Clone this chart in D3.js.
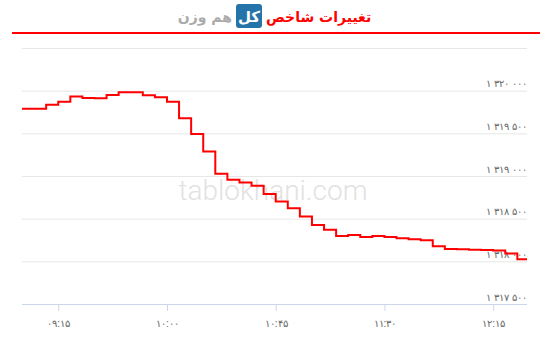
<!DOCTYPE html>
<html lang="fa">
<head>
<meta charset="utf-8">
<title>تغییرات شاخص کل هم وزن</title>
<script src="https://cdn.jsdelivr.net/npm/d3@7"></script>
<style>
  body { margin: 0; background: #fff; }
  svg { display: block; font-family: "DejaVu Sans", sans-serif; }
</style>
</head>
<body>
<script>
// data (5 minute steps)
var times = ["09:00","09:05","09:10","09:15","09:20","09:25","09:30","09:35","09:40","09:45",
             "09:50","09:55","10:00","10:05","10:10","10:15","10:20","10:25","10:30","10:35",
             "10:40","10:45","10:50","10:55","11:00","11:05","11:10","11:15","11:20","11:25",
             "11:30","11:35","11:40","11:45","11:50","11:55","12:00","12:05","12:10","12:15",
             "12:20","12:25","12:29"];
var values = [1319789,1319789,1319836,1319871,1319933,1319914,1319912,1319949,1319980,1319980,
              1319945,1319924,1319871,1319677,1319492,1319288,1319026,1318955,1318924,1318885,
              1318788,1318701,1318623,1318525,1318427,1318369,1318298,1318310,1318286,1318298,
              1318286,1318271,1318259,1318248,1318177,1318146,1318142,1318137,1318134,1318126,
              1318093,1318025,1318025];
var yTicks = [1317500, 1318000, 1318500, 1319000, 1319500, 1320000, 1320500];
var xTicks = ["09:15", "10:00", "10:45", "11:30", "12:15"];

var w = 550, h = 346;
var plotLeft = 22, plotRight = 527, plotTop = 48, plotBottom = 304;

var parse = d3.timeParse("%H:%M");
var fa = function(s) {
  return String(s).replace(/[0-9]/g, function(c) { return "۰۱۲۳۴۵۶۷۸۹"[+c]; });
};

var data = times.map(function(t, i) { return { t: parse(t), v: values[i] }; });

var x = d3.scaleTime()
    .domain(d3.extent(data, function(d) { return d.t; }))
    .range([plotLeft, plotRight]);
var y = d3.scaleLinear()
    .domain([1317500, 1320500])
    .range([plotBottom, plotTop]);

var svg = d3.select("body").append("svg")
    .attr("width", w)
    .attr("height", h);

// title
svg.append("text")
    .attr("x", 266).attr("y", 22)
    .attr("text-anchor", "start")
    .attr("font-size", 14).attr("font-weight", "bold")
    .attr("fill", "#ff0000")
    .text("تغییرات شاخص");
svg.append("rect")
    .attr("x", 236).attr("y", 4)
    .attr("width", 26).attr("height", 24)
    .attr("rx", 3)
    .attr("fill", "#2574a9");
svg.append("text")
    .attr("x", 249).attr("y", 22)
    .attr("text-anchor", "middle")
    .attr("font-size", 15).attr("font-weight", "bold")
    .attr("fill", "#fff")
    .text("کل");
svg.append("text")
    .attr("x", 232).attr("y", 22)
    .attr("text-anchor", "end")
    .attr("font-size", 14).attr("font-weight", "bold")
    .attr("fill", "#aaaaaa")
    .text("هم وزن");
svg.append("line")
    .attr("x1", 12).attr("x2", 540)
    .attr("y1", 33).attr("y2", 33)
    .attr("stroke", "#ff0000").attr("stroke-width", 2);

// watermark
svg.append("text")
    .attr("x", 273).attr("y", 200)
    .attr("text-anchor", "middle")
    .attr("font-family", "Roboto, sans-serif")
    .attr("font-weight", 300)
    .attr("font-size", 28)
    .attr("fill", "#e2e2e2")
    .text("tablokhani.com");

// y grid + labels (inside, on the right)
var yAxis = d3.axisRight(y)
    .tickValues(yTicks)
    .tickSize(plotRight - plotLeft)
    .tickFormat(function(d) {
      return d === 1320500 ? "" : fa(d3.format(",")(d).replace(/,/g, " "));
    });
var gy = svg.append("g")
    .attr("transform", "translate(" + plotLeft + ",0)")
    .call(yAxis);
gy.select(".domain").remove();
gy.selectAll(".tick line").attr("stroke", "#e6e6e6");
gy.selectAll(".tick text")
    .attr("x", plotRight - plotLeft)
    .attr("dy", -4)
    .attr("text-anchor", "end")
    .attr("font-size", 10)
    .attr("fill", "#666");

// x axis
var xAxis = d3.axisBottom(x)
    .tickValues(xTicks.map(parse))
    .tickSize(7)
    .tickFormat(function(d) { return fa(d3.timeFormat("%H:%M")(d)); });
var gx = svg.append("g")
    .attr("transform", "translate(0," + plotBottom + ")")
    .call(xAxis);
gx.select(".domain").attr("stroke", "#ccd6eb").attr("d", "M" + plotLeft + ",0.5H" + plotRight);
gx.selectAll(".tick line").attr("stroke", "#ccd6eb");
gx.selectAll(".tick text")
    .attr("y", 16)
    .attr("font-size", 10)
    .attr("fill", "#666");

// step line
var line = d3.line()
    .x(function(d) { return x(d.t); })
    .y(function(d) { return y(d.v); })
    .curve(d3.curveStepAfter);
svg.append("path")
    .datum(data)
    .attr("fill", "none")
    .attr("stroke", "#ff0000")
    .attr("stroke-width", 2)
    .attr("d", line);
</script>
</body>
</html>
